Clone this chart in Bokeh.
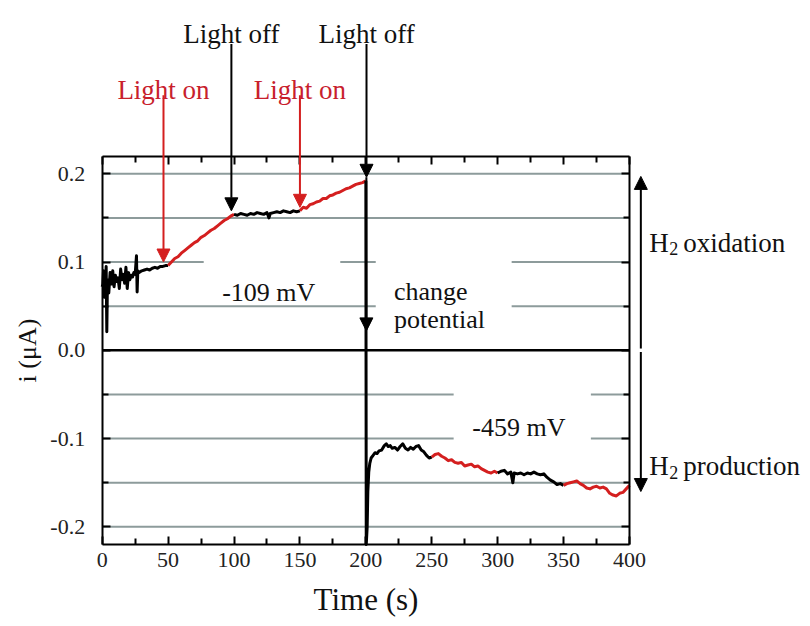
import numpy as np
from bokeh.plotting import figure
from bokeh.models import (Range1d, FixedTicker, NumeralTickFormatter, LinearAxis,
                          Arrow, NormalHead, Label)
from bokeh.embed import file_html
from bokeh.resources import INLINE

# ---------------- data ----------------
time_s = [
    0, 0.5, 1, 1.5, 2, 2.5, 3, 3.5, 4, 5, 6, 7, 8, 9, 10, 11, 12, 13, 14, 15, 16, 17, 18, 19, 20,
    21, 22, 23, 24, 25, 26, 26.5, 27, 28, 30, 32, 34, 36, 38, 40, 42, 44, 46, 48,
    50, 52.5, 55, 57.5, 60, 62.5, 65, 67.5, 70, 72.5, 75, 77.5, 80, 82.5, 85, 87.5, 90, 92.5, 95, 97.5,
    100, 102.5, 105, 107.5, 110, 112.5, 115, 117.5, 120, 122.5, 125, 126.5, 127.5, 130, 132.5, 135, 137.5,
    140, 142.5, 145, 147.5,
    150, 152.5, 155, 157.5, 160, 162.5, 165, 167.5, 170, 172.5, 175, 177.5, 180, 182.5, 185, 187.5, 190,
    192.5, 195, 197.5,
    200, 200.3, 201.0, 201.5, 202.2, 203, 204, 205.5, 207, 208.5, 210, 212, 214, 215.5, 217, 218.5, 220,
    222, 224, 226, 228, 230, 232, 234, 236, 238, 240, 242, 244, 246, 248,
    250, 252.5, 255, 257.5, 260, 262.5, 265, 267.5, 270, 272.5, 275, 277.5, 280, 282.5, 285, 287.5, 290,
    292.5, 295, 297.5,
    300, 302.5, 305, 307.5, 310, 311.5, 312.5, 315, 317.5, 320, 322.5, 325, 327.5, 330, 332.5, 335, 337.5,
    340, 342.5, 345, 347.5,
    350, 352.5, 355, 357.5, 360, 362.5, 365, 367.5, 370, 372.5, 375, 377.5, 380, 382.5, 385, 387.5, 390,
    392.5, 395, 397.5, 400,
]
current_uA = [
    0.072, 0.075, 0.090, 0.060, 0.085, 0.070, 0.095, 0.021, 0.080, 0.065, 0.088, 0.075, 0.090, 0.072,
    0.085, 0.078, 0.082, 0.070, 0.092, 0.080, 0.086, 0.076, 0.094, 0.070, 0.088, 0.080, 0.085, 0.083,
    0.088, 0.086, 0.107, 0.066, 0.090, 0.088, 0.090, 0.091, 0.092, 0.091, 0.093, 0.094, 0.093, 0.095,
    0.095, 0.096,
    0.096, 0.100, 0.104, 0.106, 0.110, 0.113, 0.116, 0.119, 0.122, 0.124, 0.128, 0.130, 0.133, 0.136,
    0.138, 0.141, 0.144, 0.147, 0.149, 0.152,
    0.154, 0.153, 0.155, 0.154, 0.153, 0.155, 0.154, 0.156, 0.155, 0.154, 0.156, 0.150, 0.155, 0.156,
    0.157, 0.156, 0.158, 0.157, 0.156, 0.158, 0.157,
    0.158, 0.162, 0.161, 0.165, 0.166, 0.168, 0.169, 0.172, 0.172, 0.175, 0.176, 0.178, 0.179, 0.181,
    0.183, 0.184, 0.186, 0.188, 0.189, 0.190,
    0.192, -0.220, -0.200, -0.160, -0.138, -0.128, -0.122, -0.119, -0.116, -0.117, -0.114, -0.113,
    -0.108, -0.106, -0.109, -0.108, -0.111, -0.110, -0.113, -0.109, -0.106, -0.111, -0.113, -0.110,
    -0.112, -0.109, -0.108, -0.113, -0.115, -0.119, -0.122,
    -0.121, -0.118, -0.117, -0.120, -0.122, -0.125, -0.124, -0.127, -0.128, -0.127, -0.131, -0.130,
    -0.129, -0.132, -0.131, -0.134, -0.136, -0.138, -0.139, -0.137,
    -0.139, -0.137, -0.136, -0.140, -0.138, -0.150, -0.139, -0.140, -0.139, -0.141, -0.139, -0.140,
    -0.138, -0.140, -0.141, -0.140, -0.144, -0.147, -0.149, -0.152, -0.151,
    -0.153, -0.151, -0.150, -0.149, -0.148, -0.151, -0.153, -0.156, -0.157, -0.155, -0.154, -0.156,
    -0.155, -0.157, -0.162, -0.164, -0.165, -0.162, -0.161, -0.157, -0.153,
]
segment_bounds = [0, 50, 100, 150, 200, 250, 300, 350, 400]
segment_light_on = [False, True, False, True, False, True, False, True]

event_times = [50, 100, 150, 200]
event_labels = ["Light on", "Light off", "Light on", "Light off"]
event_light_on = [True, False, True, False]

potential_labels = ["-109 mV", "-459 mV"]

x_major = [0, 50, 100, 150, 200, 250, 300, 350, 400]
x_minor = [25, 75, 125, 175, 225, 275, 325, 375]
y_major = [-0.2, -0.1, 0.0, 0.1, 0.2]
y_minor = [-0.15, -0.05, 0.05, 0.15]
y_limits = [-0.22, 0.22]

# ---------------- style / layout ----------------
RED = "#d41f1f"
TEXT_RED = "#c8202c"
GRID = "#8d9b9b"
FONT = "Liberation Serif"
W, H = 810, 626
# pixel position of the plot box inside the canvas
BOX_L, BOX_R, BOX_T, BOX_B = 101.7, 629.0, 155.6, 544.0

sx = (BOX_R - BOX_L) / (x_major[-1] - x_major[0])
sy = (BOX_B - BOX_T) / (y_limits[1] - y_limits[0])
x_start = x_major[0] - BOX_L / sx
y_start = y_limits[0] - (H - BOX_B) / sy

t = np.array(time_s)
cur = np.array(current_uA)

p = figure(width=W, height=H, output_backend="svg", toolbar_location=None,
           x_range=Range1d(x_start, x_start + W / sx), y_range=Range1d(y_start, y_start + H / sy),
           x_axis_location=None, y_axis_location=None,
           min_border=0, min_border_left=0, min_border_right=0, min_border_top=0, min_border_bottom=0)
p.background_fill_color = "white"
p.border_fill_color = "white"
p.outline_line_color = None
for g in p.grid:
    g.visible = False


def make_axis(ticks, minor, loc, bounds, label=None, show_labels=False):
    ax = LinearAxis(fixed_location=loc, bounds=bounds)
    ax.ticker = FixedTicker(ticks=ticks, minor_ticks=minor)
    ax.axis_line_color = "black"
    ax.axis_line_width = 2
    ax.major_tick_in = 8
    ax.major_tick_out = 0
    ax.minor_tick_in = 6
    ax.minor_tick_out = 0
    ax.major_tick_line_width = 2
    ax.minor_tick_line_width = 2
    ax.major_label_text_font = FONT
    ax.major_label_text_font_size = "22px" if show_labels else "1px"
    ax.major_label_text_color = "#222222" if show_labels else None
    if label:
        ax.axis_label = label
        ax.axis_label_text_font = FONT
        ax.axis_label_text_font_style = "normal"
        ax.axis_label_text_color = "#111111"
    return ax


xbounds = (x_major[0], x_major[-1])
ybounds = (y_limits[0], y_limits[1])
xax = make_axis(x_major, x_minor, y_limits[0], xbounds, "Time (s)", True)
xax.major_label_standoff = 8
xax.axis_label_standoff = 12
xax.axis_label_text_font_size = "31px"
p.add_layout(xax, "below")

yax = make_axis(y_major, y_minor, x_major[0], ybounds, "i (μA)", True)
yax.formatter = NumeralTickFormatter(format="0.0")
yax.major_label_standoff = 17
yax.axis_label_standoff = 6
yax.axis_label_text_font_size = "26px"
p.add_layout(yax, "left")

p.add_layout(make_axis(x_major, x_minor, y_limits[1], xbounds), "above")
p.add_layout(make_axis(y_major, y_minor, x_major[-1], ybounds), "right")

# horizontal grid lines every 0.05 (the zero line is drawn black)
grid_vals = [v for v in sorted(y_major + y_minor) if v != 0.0]
p.segment(x0=[x_major[0]] * len(grid_vals), x1=[x_major[-1]] * len(grid_vals),
          y0=grid_vals, y1=grid_vals, line_color=GRID, line_width=2)
# white gaps in the grid lines around the in-plot texts
p.quad(left=[77, 207.5, 266.6], right=[180.6, 310.6, 370.7],
       bottom=[0.09, 0.04, -0.11], top=[0.11, 0.11, -0.04],
       fill_color="white", line_color=None)
# zero line
p.segment(x0=[x_major[0]], x1=[x_major[-1]], y0=[0.0], y1=[0.0], line_color="black", line_width=2.5)

# data, coloured by light state
for k in range(len(segment_light_on)):
    a, b = segment_bounds[k], segment_bounds[k + 1]
    m = (t >= a) & (t <= b)
    p.line(t[m], cur[m], line_color=RED if segment_light_on[k] else "black",
           line_width=3, line_join="round")


def arrow(x0, y0, x1, y1, color, size=13):
    p.add_layout(Arrow(x_start=x0, y_start=y0, x_end=x1, y_end=y1, line_color=color, line_width=2,
                       end=NormalHead(size=size, fill_color=color, line_color=color, line_width=1)))


# light on / off arrows and labels
x_shift = [-3.5, -2, 0, 0.5]
for ev, lab, on, dx in zip(event_times, event_labels, event_light_on, x_shift):
    col = RED if on else "black"
    tip = float(np.interp(ev, t[t <= ev], cur[t <= ev])) + 0.004
    top_y = 0.289 if on else 0.347
    arrow(ev + dx, top_y, ev + dx, tip, col)
    p.add_layout(Label(x=ev + dx, y=0.295 if on else 0.358, text=lab, text_align="center",
                       text_baseline="alphabetic", text_font=FONT, text_font_size="27px",
                       text_color=TEXT_RED if on else "#111111"))

# change of potential arrow at t = 200
arrow(200.4, float(np.interp(200, t[t <= 200], cur[t <= 200])) + 0.004, 200.4, 0.022, "black")

# potential annotations
for (x, y), txt in zip([(91, 0.066), (280.8, -0.088)], potential_labels):
    p.add_layout(Label(x=x, y=y, text=txt, text_align="left", text_baseline="alphabetic",
                       text_font=FONT, text_font_size="26px", text_color="#111111"))
for y, txt in [(0.067, "change"), (0.035, "potential")]:
    p.add_layout(Label(x=221.3, y=y, text=txt, text_align="left", text_baseline="alphabetic",
                       text_font=FONT, text_font_size="26px", text_color="#111111"))

# H2 oxidation / production double arrow (right of the plot box)
arrow(408.6, 0.002, 408.6, 0.197, "black")
arrow(408.6, -0.002, 408.6, -0.16, "black")
for y, word in [(0.1216, "oxidation"), (-0.1315, "production")]:
    p.add_layout(Label(x=414.9, y=y, text="H", text_baseline="alphabetic", text_font=FONT,
                       text_font_size="27px", text_color="#111111"))
    p.add_layout(Label(x=414.9, y=y, x_offset=20, y_offset=-6, text="2", text_baseline="alphabetic",
                       text_font=FONT, text_font_size="18px", text_color="#111111"))
    p.add_layout(Label(x=414.9, y=y, x_offset=34, text=word, text_baseline="alphabetic",
                       text_font=FONT, text_font_size="27px", text_color="#111111"))

open("out.html", "w").write(file_html(p, INLINE))
